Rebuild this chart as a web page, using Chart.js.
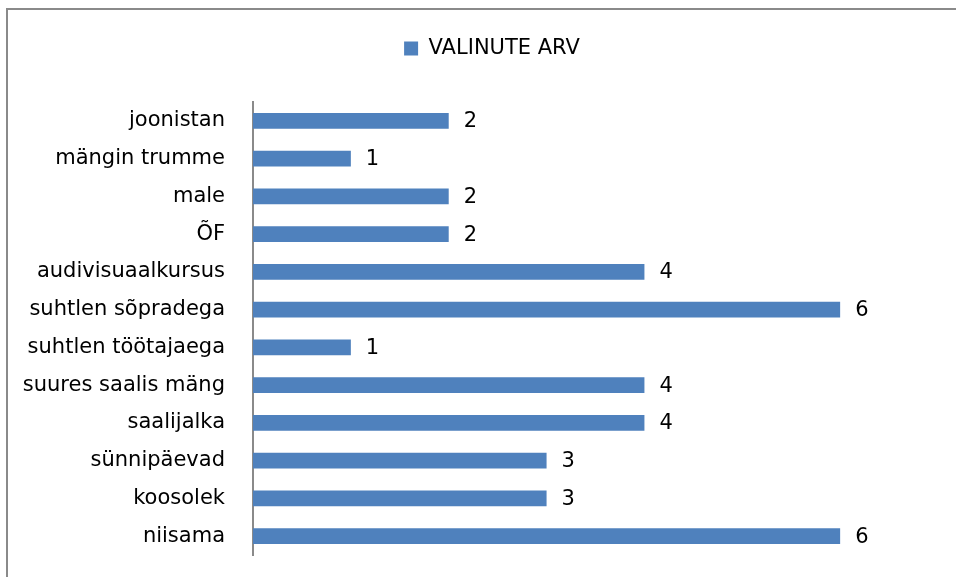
<!DOCTYPE html>
<html>
<head>
<meta charset="utf-8">
<script src="https://cdn.jsdelivr.net/npm/chart.js@4.4.1/dist/chart.umd.min.js"></script>
<style>
html,body{margin:0;padding:0;background:#fff;}
#wrap{width:956px;height:577px;position:relative;}
</style>
</head>
<body>
<div id="wrap"><canvas id="c" width="956" height="577"></canvas></div>
<script>
const categories = ["joonistan","mängin trumme","male","ÕF","audivisuaalkursus","suhtlen sõpradega","suhtlen töötajaega","suures saalis mäng","saalijalka","sünnipäevad","koosolek","niisama"];
const values = [2,1,2,2,4,6,1,4,4,3,3,6];
const seriesName = "VALINUTE ARV";

const FONT = "'DejaVu Sans', sans-serif";

const frame = {
  id:'frame',
  beforeDraw(chart){
    const ctx = chart.ctx;
    ctx.save();
    ctx.fillStyle = '#fff';
    ctx.fillRect(0,0,chart.width,chart.height);
    ctx.strokeStyle = '#8a8a8a';
    ctx.lineWidth = 2;
    ctx.beginPath();
    ctx.moveTo(7, chart.height);
    ctx.lineTo(7, 9);
    ctx.lineTo(chart.width, 9);
    ctx.stroke();
    ctx.restore();
  }
};

const legendSpace = {
  id:'legendSpace',
  afterInit(chart){
    const lg = chart.legend;
    if(!lg) return;
    const f = lg.fit;
    lg.fit = function(){ f.call(this); this.height += 33; };
  },
  afterLayout(chart){
    const lg = chart.legend;
    if(!lg) return;
    lg.left = 46;
    lg.right = 938;
  }
};

const labels = {
  id:'labels',
  afterDatasetsDraw(chart){
    const ctx = chart.ctx;
    const meta = chart.getDatasetMeta(0);
    ctx.save();
    ctx.font = "21px " + FONT;
    ctx.fillStyle = '#000';
    ctx.textBaseline = 'middle';
    ctx.textAlign = 'left';
    meta.data.forEach((bar,i)=>{
      ctx.fillText(String(values[i]), bar.x + 15, bar.y + 1);
    });
    ctx.restore();
  }
};

new Chart(document.getElementById('c'), {
  type:'bar',
  data:{
    labels: categories,
    datasets:[{
      label: seriesName,
      data: values,
      backgroundColor:'#4f81bd',
      borderWidth:0,
      barPercentage:0.42,
      categoryPercentage:1.0
    }]
  },
  options:{
    indexAxis:'y',
    responsive:false,
    animation:false,
    devicePixelRatio:1,
    layout:{padding:{top:28,right:18,bottom:22,left:0}},
    plugins:{
      legend:{
        display:true,
        position:'top',
        labels:{
          boxWidth:14, boxHeight:14, padding:10,
          color:'#000',
          font:{family:FONT,size:21}
        }
      },
      tooltip:{enabled:false}
    },
    scales:{
      x:{
        display:false,
        min:0, max:7
      },
      y:{
        grid:{display:false, drawTicks:false},
        border:{display:true, color:'#8a8a8a', width:2},
        ticks:{color:'#000', padding:28, font:{family:FONT,size:21}},
        afterFit(scale){
          scale.width = 253;
          scale.paddingTop = 0;
          scale.paddingBottom = 0;
        }
      }
    }
  },
  plugins:[frame, legendSpace, labels]
});
</script>
</body>
</html>
